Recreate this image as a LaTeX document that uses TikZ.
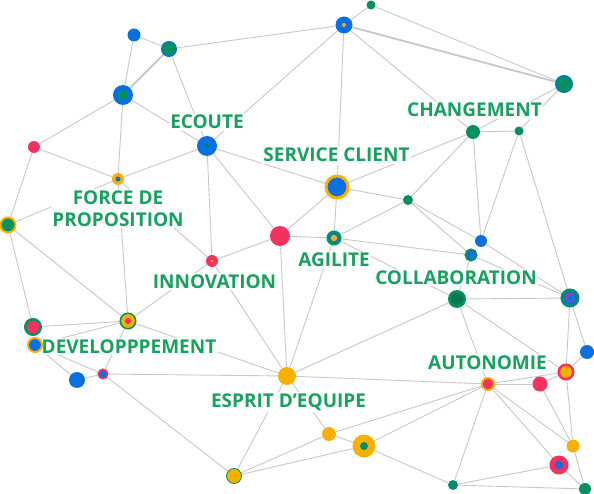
\documentclass[tikz,border=0pt]{standalone}
\usepackage{fontspec}
\setmainfont{Open Sans}
\usetikzlibrary{backgrounds}

\definecolor{netblue}{HTML}{0A70E2}
\definecolor{netgreen}{HTML}{00915F}
\definecolor{netred}{HTML}{F4325F}
\definecolor{netyellow}{HTML}{F8B000}
\definecolor{netteal}{HTML}{00806A}
\definecolor{nettext}{HTML}{18A060}
\definecolor{netline}{HTML}{C8C8C8}

\begin{document}
\begin{tikzpicture}[
x=1pt, y=-1pt,
dot/.style={circle, inner sep=0pt, minimum size=#1},
link/.style={draw=netline, line width=0.9pt},
doublelink/.style={draw=netline, line width=1.8pt},
skill/.style={
    font=\fontsize{19}{22}\selectfont\bfseries,
    text=nettext,
    fill=white,
    inner sep=1.5pt,
    align=center
}
]

\useasboundingbox (0,0) rectangle (594,494);

% =====================================================
% Labels
% =====================================================

\node[skill, anchor=base] (labecoute) at (207,129) {ECOUTE};
\node[skill, anchor=base] (labservice) at (336.5,162) {SERVICE CLIENT};
\node[skill, anchor=base] (labchangement) at (474.5,117) {CHANGEMENT};
\node[skill] (labforce) at (118,208.5) {FORCE DE\\PROPOSITION};
\node[skill, anchor=base] (labinnovation) at (214.5,288) {INNOVATION};
\node[skill, anchor=base] (labagilite) at (334,267) {AGILITE};
\node[skill, anchor=base] (labcollab) at (456,284) {COLLABORATION};
\node[skill, anchor=base] (labdev) at (129,353) {DEVELOPPPEMENT};
\node[skill, anchor=base] (labautonomie) at (487.5,369) {AUTONOMIE};
\node[skill, anchor=base] (labesprit) at (288.5,407) {ESPRIT D’EQUIPE};

% =====================================================
% Dots
% =====================================================

% Top row
\node[dot=9, fill=netgreen] (n1) at (371,5) {};
\node[dot=13, fill=netblue] (n2) at (134,35) {};
\node[dot=14.7, fill=netgreen, draw=netblue, line width=1.3pt] (n3) at (169,49) {};
\node[dot=17, fill=netblue] (n4) at (344,25) {};
\node[dot=4, fill=netyellow] (n4c) at (n4) {};
\node[dot=16.7, fill=netgreen, draw=netblue, line width=1.3pt] (n5) at (564,84) {};
\node[dot=20, fill=netblue] (n6) at (123,95) {};
\node[dot=10, fill=netgreen] (n6c) at (n6) {};

% Upper middle
\node[dot=20, fill=netblue] (ecoute) at (207,146) {};
\node[dot=4, fill=netteal] (ecoutec) at (ecoute) {};
\node[dot=12, fill=netred] (n8) at (34,147) {};
\node[dot=12, fill=netyellow] (force) at (118,179) {};
\node[dot=5, fill=netblue] (forcec) at (force) {};
\node[dot=15, fill=netgreen, draw=netyellow, line width=2pt] (n10) at (8,225) {};
\node[dot=22, fill=netblue, draw=netyellow, line width=3pt] (service) at (337,187) {};
\node[dot=14, fill=netgreen] (changement) at (473,132) {};
\node[dot=9, fill=netgreen] (n13) at (519,131) {};
\node[dot=10, fill=netgreen] (n14) at (408,200) {};

% Middle
\node[dot=20, fill=netred] (n15) at (280,236) {};
\node[dot=12.3, fill=netblue, draw=netgreen, line width=2.7pt] (agilite) at (334,238) {};
\node[dot=6.5, fill=netyellow] (agilitec) at (agilite) {};
\node[dot=12, fill=netred] (innovation) at (212,261) {};
\node[dot=3, fill=netyellow] (innovationc) at (innovation) {};
\node[dot=12, fill=netblue] (n18) at (481,241) {};
\node[dot=11, fill=netblue, draw=netgreen, line width=2pt] (n19) at (471,255) {};
\node[dot=18, fill=netgreen] (collab) at (457,299) {};
\node[dot=12, fill=netgreen!85!black] (collabc) at (collab) {};
\node[dot=16.5, fill=netblue, draw=netgreen, line width=2.5pt] (n21) at (570,298) {};
\node[dot=8, fill=netblue, draw=netred, line width=0.8pt] (n21c) at (n21) {};
\node[dot=14, fill=netblue] (n22) at (587,352) {};

% Left cluster
\node[dot=15.5, fill=netred, draw=netgreen, line width=2.5pt] (n23) at (33,327) {};
\node[dot=15.5, fill=netyellow, draw=netgreen, line width=1.5pt] (n24) at (128,321) {};
\node[dot=6, fill=netred] (n24c) at (n24) {};
\node[dot=14, fill=netblue, draw=netyellow, line width=2pt] (dev) at (35,345) {};
\node[dot=16, fill=netblue] (n26) at (77,380) {};
\node[dot=9.3, fill=netblue, draw=netred, line width=1.7pt] (n27) at (103,374) {};

% Lower part
\node[dot=18, fill=netyellow] (esprit) at (287,376) {};
\node[dot=12.2, fill=netred, draw=netyellow, line width=1.8pt] (autonomie) at (488,384) {};
\node[dot=15, fill=netred] (n30) at (540,384) {};
\node[dot=14.5, fill=netyellow, draw=netred, line width=2.5pt] (n31) at (566,372) {};
\node[dot=14, fill=netyellow] (n32) at (329,434) {};
\node[dot=23, fill=netyellow] (n33) at (364,446) {};
\node[dot=8, fill=netgreen] (n33c) at (n33) {};
\node[dot=15, fill=netyellow, draw=netgreen, line width=0.8pt] (n34) at (234,476) {};
\node[dot=13, fill=netyellow] (n35) at (573,446) {};
\node[dot=19, fill=netred] (n36) at (559,465) {};
\node[dot=8, fill=netblue] (n36c) at (n36) {};
\node[dot=10, fill=netgreen] (n37) at (453,485) {};
\node[dot=6, fill=netblue!40!netgreen] (n37c) at (n37) {};
\node[dot=12, fill=netgreen] (n38) at (585,489) {};

% =====================================================
% Links
% =====================================================

\begin{scope}[on background layer]
\fill[white] (0,0) rectangle (594,494);

\draw[doublelink] (n3) -- (n6);
\draw[doublelink] (n4) -- (n5);

\foreach \a/\b in {n2/n3, n2/n6, n3/ecoute, n3/n4, n4/ecoute, n1/n4, n1/n5,
    n4/service, n4/changement, n5/changement, n5/n13, changement/n13,
    n6/n8, n6/ecoute, n6/force, n8/force, n8/n10, force/ecoute, force/n10,
    force/innovation, force/n24, ecoute/innovation, ecoute/n15, ecoute/service,
    n10/n23, n10/n24, service/changement, service/n14, service/n15,
    service/agilite, changement/n14, changement/n18, n13/n18, n13/n21,
    n14/agilite, n14/n18, n14/n19, n15/agilite, n15/innovation, n15/esprit,
    agilite/n19, agilite/esprit, agilite/collab, n18/n21, n19/n21, n19/collab,
    collab/n21, collab/esprit, collab/autonomie, collab/n31, n21/n22, n21/n31,
    n22/n31, n31/n30, autonomie/n30, autonomie/n31, esprit/autonomie,
    esprit/n24, esprit/n27, esprit/innovation, esprit/n32, esprit/n34,
    innovation/n24, n23/n24, n24/dev, n24/n27, dev/n26, dev/n27, n26/n27,
    n27/n34, n34/n32, n34/n33, n32/n33, n32/autonomie, n33/autonomie,
    n33/n37, autonomie/n37, autonomie/n35, autonomie/n36, n30/n35, n31/n35,
    n35/n38, n36/n38, n36/n37, n37/n38}{
\draw[link] (\a) -- (\b);
}
\end{scope}

\end{tikzpicture}
\end{document}
